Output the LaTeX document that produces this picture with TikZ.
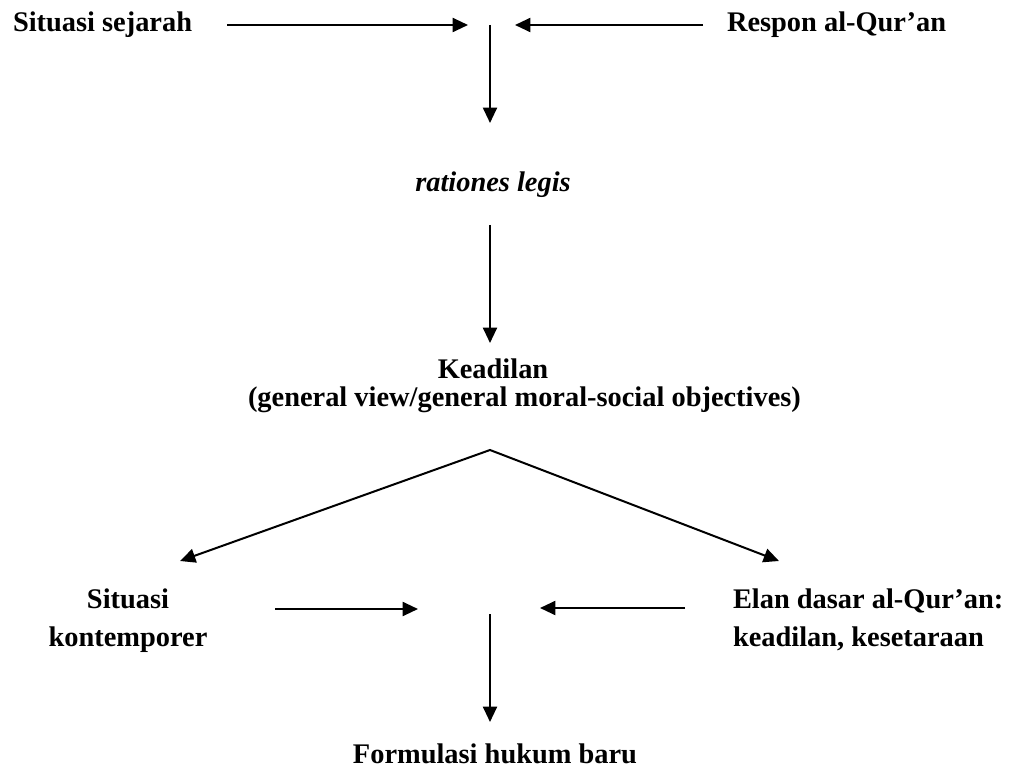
\documentclass[tikz,border=0pt]{standalone}
\usepackage{fontspec}
\setmainfont{Liberation Serif}
\usetikzlibrary{arrows.meta, positioning}

\begin{document}
\begin{tikzpicture}[x=0.75pt, y=-0.75pt, >={Triangle[length=11.5pt, width=10.5pt]}, line width=1.5pt,
    lbl/.style={inner sep=0pt, font=\fontsize{21.3}{28.5}\selectfont\bfseries}]
    \useasboundingbox (0,0) rectangle (1016,773);

    % --- Labels ---
    \node[lbl, anchor=base west] (sejarah) at (12,32) {Situasi sejarah};
    \node[lbl, anchor=base west] (respon) at (726,32) {Respon al-Qur'an};
    \node[lbl, anchor=base, font=\fontsize{21.3}{28.5}\selectfont\bfseries\itshape] (rationes) at (493,192) {rationes legis};
    \node[lbl, anchor=base] (keadilan) at (493,378) {Keadilan};
    \node[lbl, anchor=base west] (tujuan) at (247,406) {(general view/general moral-social objectives)};
    \node[lbl, anchor=north, align=center] (kontemporer) at (128,588) {Situasi\\kontemporer};
    \node[lbl, anchor=north west, align=left] (elan) at (732,588) {Elan dasar al-Qur'an:\\keadilan, kesetaraan};
    \node[lbl, anchor=base] (formulasi) at (495,763) {Formulasi hukum baru};

    % --- Arrow ends ---
    \coordinate (s1) at (227,25);
    \coordinate (s2) at (468,25);
    \coordinate (r1) at (703,25);
    \coordinate (r2) at (515,25);
    \coordinate (t1) at (490,25);
    \coordinate (t2) at (490,123);
    \coordinate (m1) at (490,225);
    \coordinate (m2) at (490,343);
    \coordinate (apex) at (490,450);
    \coordinate (kiri) at (180,561);
    \coordinate (kanan) at (779,561);
    \coordinate (k1) at (275,609);
    \coordinate (k2) at (418,609);
    \coordinate (e1) at (685,608);
    \coordinate (e2) at (540,608);
    \coordinate (b1) at (490,614);
    \coordinate (b2) at (490,722);

    % --- Top row ---
    \draw[->] (s1) -- (s2);
    \draw[->] (r1) -- (r2);
    \draw[->] (t1) -- (t2);

    % --- Middle ---
    \draw[->] (m1) -- (m2);
    \draw[<->] (kiri) -- (apex) -- (kanan);

    % --- Bottom row ---
    \draw[->] (k1) -- (k2);
    \draw[->] (e1) -- (e2);
    \draw[->] (b1) -- (b2);
\end{tikzpicture}
\end{document}
